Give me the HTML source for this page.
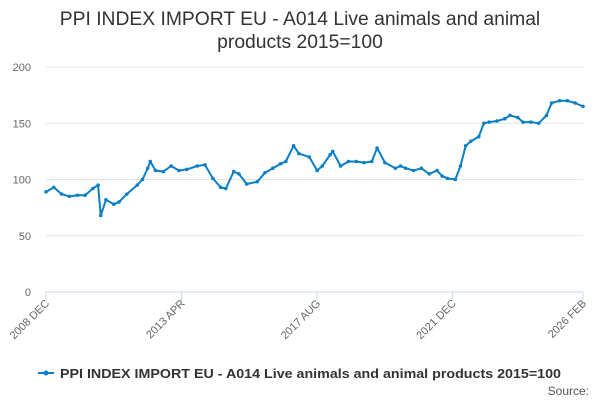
<!DOCTYPE html>
<html><head><meta charset="utf-8"><style>
body{margin:0;background:#fff;font-family:"Liberation Sans","DejaVu Sans",sans-serif;}
#c{width:600px;height:400px;position:relative;overflow:hidden}
</style></head><body>
<div id="c">
<svg id="s" width="600" height="400">
<text x="300" y="25" text-anchor="middle" font-size="19.3" fill="#333">PPI INDEX IMPORT EU - A014 Live animals and animal</text>
<text x="300" y="48" text-anchor="middle" font-size="19.3" fill="#333">products 2015=100</text>
<text x="589" y="395" text-anchor="end" font-size="12" fill="#555">Source:</text>
</svg>
</div>
<script>
const months=[0,3,6,9,12,15,18,20,21,23,26,28,31,35,37,39,40,42,45,48,51,54,58,61,64,67,69,72,74,77,81,84,87,90,92,95,97,101,104,106,109,110,113,116,119,122,125,127,130,134,136,138,141,144,147,150,152,154,157,159,161,163,166,168,170,173,176,178,181,183,186,189,192,194,197,200,203,206];
const values=[89,93,87,85,86,86,92,95,68,82,78,80,87,95,100,110,116,108,107,112,108,109,112,113,101,93,92,107,105,96,98,106,110,114,116,130,123,120,108,112,122,125,112,116,116,115,116,128,115,110,112,110,108,110,105,108,103,101,100,112,130,134,138,150,151,152,154,157,155,151,151,150,157,168,170,170,168,165];
const yTicks=[0,50,100,150,200];
const xLabels=["2008 DEC","2013 APR","2017 AUG","2021 DEC","2026 FEB"];
const xLabelMonths=[0,52,104,156,206];
const NS="http://www.w3.org/2000/svg";
const svg=document.getElementById('s');
const L=46,R=583,T=67,B=292,maxM=206,maxV=200;
const xs=m=>L+(R-L)*m/maxM, ys=v=>B-(B-T)*v/maxV;
function mk(t,a){const e=document.createElementNS(NS,t);for(const k in a)e.setAttribute(k,a[k]);svg.appendChild(e);return e;}
yTicks.forEach(v=>{
 const g=mk('line',{x1:L,x2:R,y1:ys(v),y2:ys(v),stroke:v===0?'#ccd6eb':'#e6e6e6','stroke-width':1});
 
 
 const t=mk('text',{x:L-15,y:ys(v)+4,'text-anchor':'end','font-size':11,fill:'#666'});t.textContent=v;
 
 
});
xLabels.forEach((lab,i)=>{
 const x=xs(xLabelMonths[i]);
 const tk=mk('line',{x1:x,x2:x,y1:B,y2:B+8,stroke:'#ccd6eb'});
 
 
 const t=mk('text',{x:x+4,y:B+12,'text-anchor':'end','font-size':11,fill:'#666',transform:`rotate(-45 ${x+4} ${B+12})`});
 t.textContent=lab;
 
 
});
const pts=months.map((m,i)=>xs(m).toFixed(1)+','+ys(values[i]).toFixed(1)).join(' ');
const pl=mk('polyline',{points:pts,fill:'none',stroke:'#0a7fc4','stroke-width':2,'stroke-linejoin':'round'});


months.forEach((m,i)=>{
 const c=mk('circle',{cx:xs(m),cy:ys(values[i]),r:1.8,fill:'#0a7fc4'});
 
 
});
const ll=mk('line',{x1:38,x2:54,y1:373,y2:373,stroke:'#0a7fc4','stroke-width':2});


const lc=mk('circle',{cx:46,cy:373,r:2.5,fill:'#0a7fc4'});


const lt=mk('text',{x:60,y:378,'font-size':13,'font-weight':'bold',fill:'#333',textLength:501,lengthAdjust:'spacingAndGlyphs'});
lt.textContent='PPI INDEX IMPORT EU - A014 Live animals and animal products 2015=100';


</script>
</body></html>
